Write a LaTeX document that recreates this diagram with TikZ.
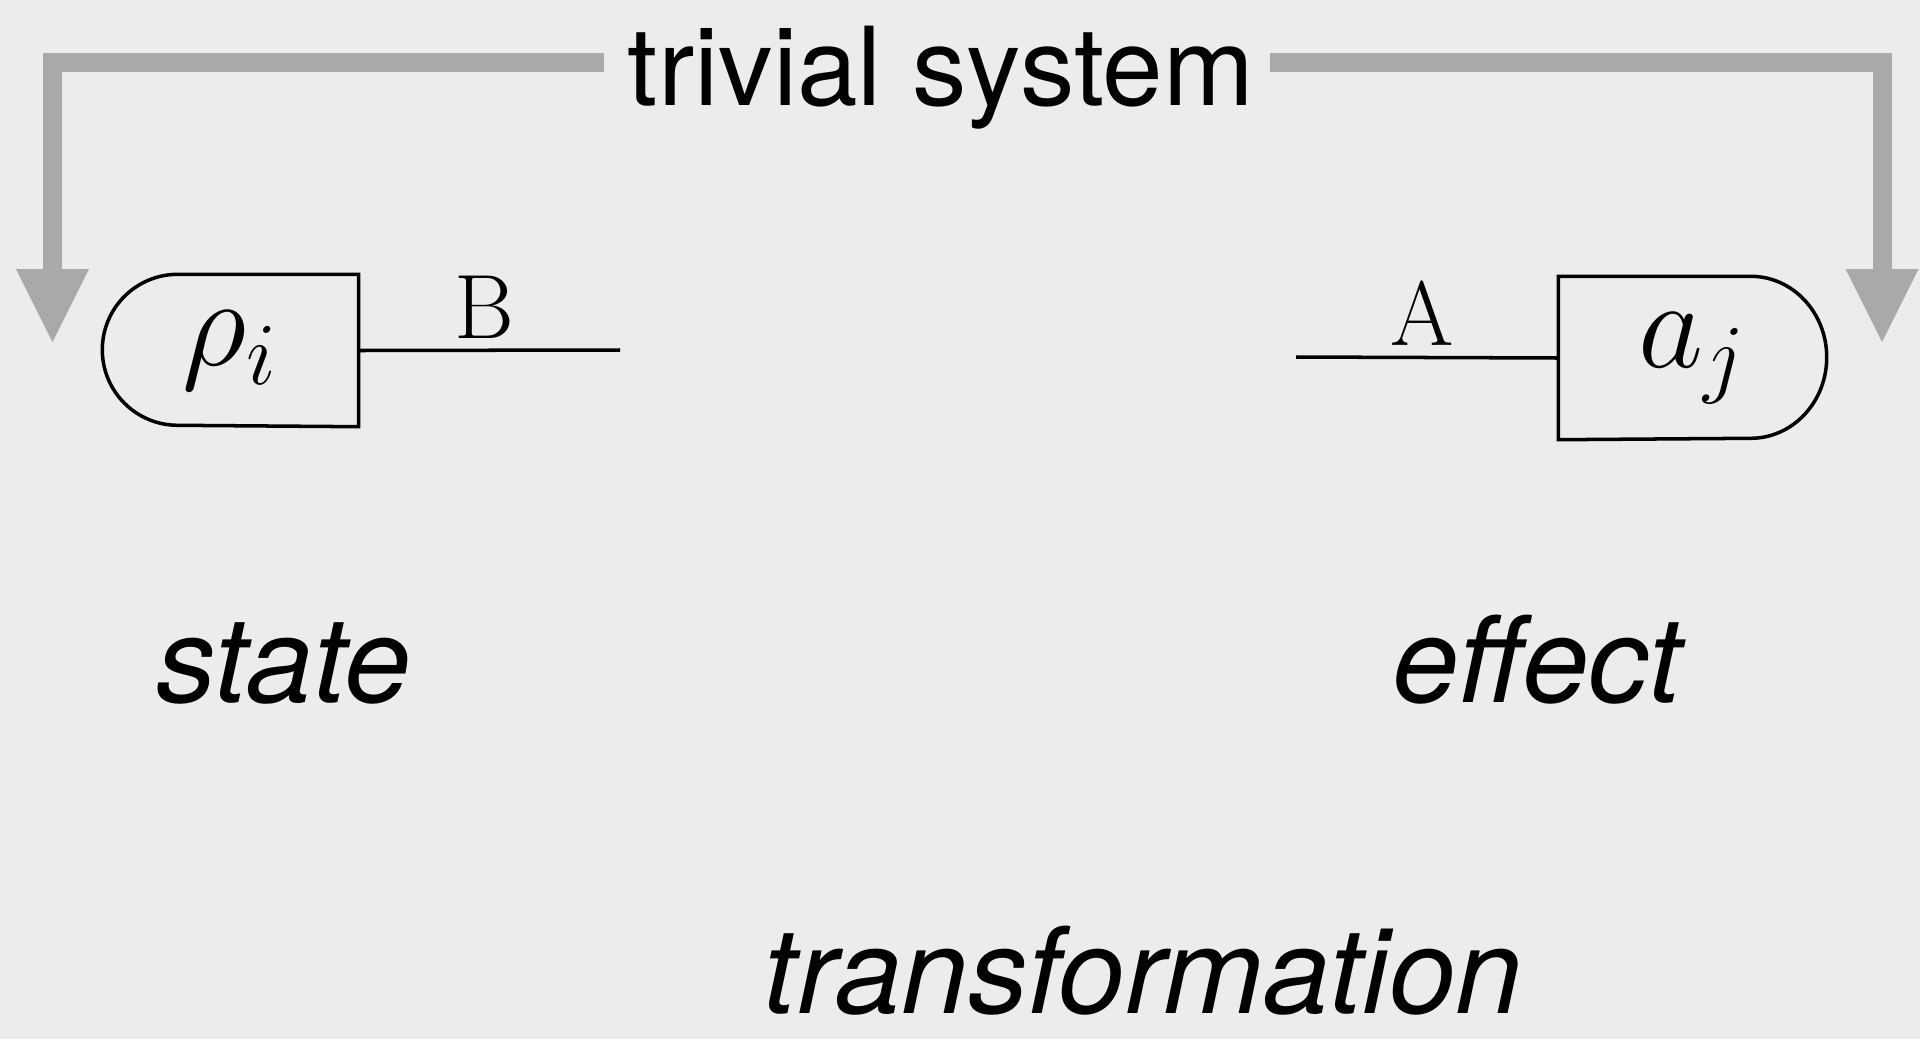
\documentclass[tikz,border=0pt]{standalone}
\usepackage{fix-cm}
\usepackage[no-math]{fontspec}
\newfontfamily\helv{TeX Gyre Heros}
\usetikzlibrary{arrows.meta}
\definecolor{paper}{HTML}{ECECEC}
\definecolor{bracketgray}{HTML}{A9A9A9}
\tikzset{
  wire/.style={line width=1pt},
  proc/.style={inner sep=0pt,minimum height=1.51cm,font=\fontsize{36}{40}\selectfont},
  syslab/.style={pos=.48,above,inner sep=1mm,font=\fontsize{26}{30}\selectfont},
  sysarrow/.style={draw=bracketgray,line width=1.9mm,line join=miter,
    -{Triangle[width=7.3mm,length=7.3mm,line width=0pt]}},
  caption/.style={font=\helv\fontsize{34}{40}\selectfont\itshape,inner sep=0pt,anchor=base},
}
\begin{document}
\begin{tikzpicture}[x=1cm,y=1cm]
  \fill[paper] (0,0) rectangle (19.2,-10.39);
  \useasboundingbox (0,0) rectangle (19.2,-10.39);

  \node[font=\helv\fontsize{31}{36}\selectfont,inner sep=0pt,anchor=base] (triv) at (9.41,-1.05) {trivial system};
  \coordinate (tl) at (.525,-.62);
  \coordinate (tr) at (18.82,-.62);
  \coordinate (ltip) at (.525,-3.42);
  \coordinate (rtip) at (18.82,-3.42);
  \draw[sysarrow] ([xshift=-2.3mm]triv.west |- tl) -- (tl) -- (ltip);
  \draw[sysarrow] ([xshift=1.5mm]triv.east |- tr) -- (tr) -- (rtip);

  % state with its output wire
  \node[proc,minimum width=2.55cm] (rho) at (2.305,-3.505) {$\rho_i$};
  \draw[wire] (rho.north east) -- ([xshift=.755cm]rho.north west) arc (90:270:.755cm) -- (rho.south east) -- cycle;
  \coordinate (bout) at (6.20,-3.50);
  \draw[wire] (rho.east) -- (bout) node[syslab] (blab) {B};

  % effect with its input wire
  \node[proc,minimum width=2.67cm,minimum height=1.62cm] (aj) at (16.925,-3.58) {$a_j$};
  \draw[wire] (aj.north west) -- ([xshift=-.76cm]aj.north east) arc (90:-90:.76cm and .81cm) -- (aj.south west) -- cycle;
  \coordinate (ain) at (12.96,-3.57);
  \draw[wire] (ain) -- (aj.west) node[syslab] (alab) {A};

  \node[caption] (state) at (2.835,-7.02) {state};
  \node[caption] (effect) at (15.37,-7.02) {effect};
  \node[caption] (trans) at (11.43,-10.13) {transformation};
\end{tikzpicture}
\end{document}
